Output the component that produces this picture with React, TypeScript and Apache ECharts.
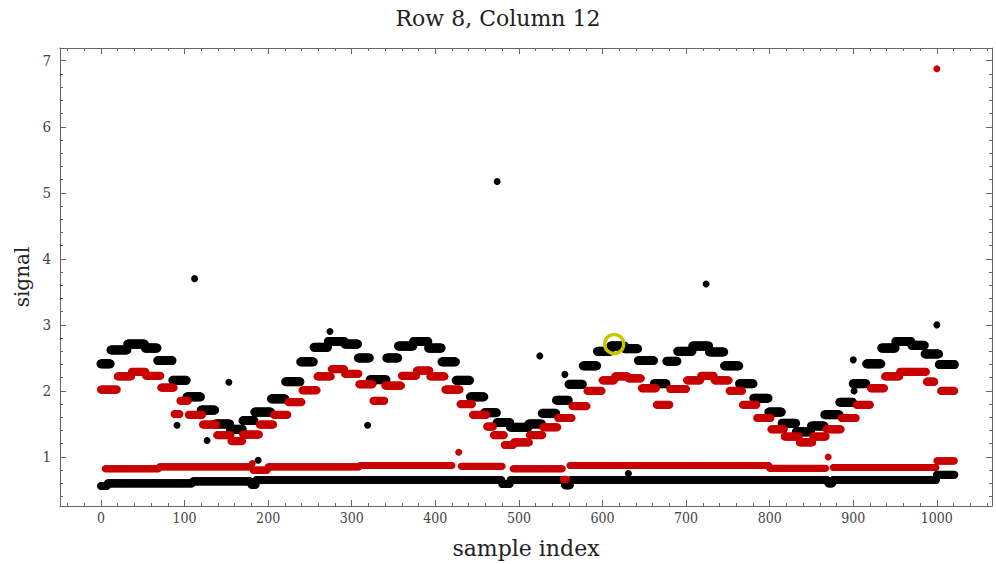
import React, { useEffect, useRef } from "react";
import * as echarts from "echarts";

type Block = [number, number, number]; // [startIndex, endIndex (exclusive), level]

// upper oscillating black trace, read as constant-level steps
const blackWave: Block[] = [
  [0, 12, 2.41], [12, 32, 2.62], [32, 53, 2.71], [53, 68, 2.65], [68, 86, 2.46],
  [86, 103, 2.16], [103, 120, 1.91], [120, 137, 1.71], [137, 155, 1.5], [155, 170, 1.42],
  [170, 184, 1.55], [184, 204, 1.68], [204, 221, 1.88], [221, 239, 2.14], [239, 255, 2.44],
  [255, 272, 2.66], [272, 292, 2.75], [292, 308, 2.71], [308, 322, 2.5], [322, 342, 2.17],
  [342, 356, 2.5], [356, 374, 2.68], [374, 392, 2.75], [392, 408, 2.65], [408, 425, 2.44],
  [425, 442, 2.16], [442, 459, 1.91], [459, 474, 1.67], [474, 490, 1.52], [490, 512, 1.45],
  [512, 528, 1.5], [528, 545, 1.66], [545, 560, 1.86], [560, 577, 2.1], [577, 594, 2.38],
  [594, 610, 2.6], [610, 627, 2.68], [627, 643, 2.64], [643, 662, 2.46], [662, 677, 2.11],
  [677, 690, 2.45], [690, 708, 2.6], [708, 728, 2.68], [728, 746, 2.59], [746, 764, 2.38],
  [764, 781, 2.11], [781, 799, 1.89], [799, 815, 1.68], [815, 832, 1.51], [832, 850, 1.38],
  [850, 866, 1.47], [866, 884, 1.64], [884, 900, 1.83], [900, 916, 2.11], [916, 934, 2.41],
  [934, 951, 2.65], [951, 970, 2.75], [970, 986, 2.69], [986, 1003, 2.56], [1003, 1022, 2.4],
];

// upper oscillating red trace
const redWave: Block[] = [
  [0, 20, 2.02], [20, 37, 2.22], [37, 54, 2.29], [54, 72, 2.23], [72, 88, 2.05],
  [88, 95, 1.65], [95, 105, 1.85], [105, 122, 1.64], [122, 139, 1.49], [139, 156, 1.33],
  [156, 170, 1.24], [170, 190, 1.34], [190, 207, 1.49], [207, 224, 1.64], [224, 241, 1.83],
  [241, 259, 2.01], [259, 276, 2.22], [276, 292, 2.33], [292, 309, 2.26], [309, 326, 2.1],
  [326, 340, 1.85], [340, 360, 2.08], [360, 378, 2.23], [378, 394, 2.31], [394, 412, 2.22],
  [412, 430, 2.02], [430, 445, 1.8], [445, 462, 1.64], [462, 470, 1.46], [470, 483, 1.33],
  [483, 494, 1.18], [494, 513, 1.22], [513, 529, 1.33], [529, 547, 1.45], [547, 564, 1.59],
  [564, 582, 1.77], [582, 600, 2.0], [600, 615, 2.16], [615, 631, 2.22], [631, 647, 2.19],
  [647, 665, 2.04], [665, 681, 1.79], [681, 701, 2.03], [701, 718, 2.16], [718, 734, 2.23],
  [734, 752, 2.16], [752, 768, 2.0], [768, 785, 1.79], [785, 802, 1.59], [802, 818, 1.42],
  [818, 836, 1.31], [836, 852, 1.22], [852, 868, 1.31], [868, 886, 1.42], [886, 904, 1.59],
  [904, 921, 1.79], [921, 938, 2.04], [938, 956, 2.22], [956, 988, 2.29], [988, 998, 2.14],
  [1005, 1022, 2.0],
];

// flat red baseline (~0.85)
const redBase: Block[] = [
  [5, 70, 0.82], [70, 178, 0.85], [182, 200, 0.8], [200, 310, 0.85], [310, 421, 0.87],
  [431, 481, 0.86], [493, 553, 0.82], [553, 558, 0.66], [561, 700, 0.87], [700, 800, 0.87],
  [800, 868, 0.83], [876, 1000, 0.84], [1000, 1022, 0.94],
];

// flat black baseline (~0.63)
const blackBase: Block[] = [
  [0, 8, 0.56], [8, 110, 0.6], [110, 180, 0.63], [180, 186, 0.58], [186, 480, 0.65],
  [480, 490, 0.59], [490, 555, 0.65], [555, 562, 0.57], [562, 870, 0.65], [870, 876, 0.6],
  [876, 1000, 0.65], [1000, 1022, 0.73],
];

const blackOutliers: [number, number][] = [
  [91, 1.48], [112, 3.7], [127, 1.25], [153, 2.13], [188, 0.95], [274, 2.9], [319, 1.48],
  [474, 5.17], [525, 2.53], [555, 2.25], [631, 0.75], [724, 3.62], [900, 2.47], [901, 2.0],
  [1000, 3.0],
];

const redOutliers: [number, number][] = [
  [181, 0.9], [428, 1.07], [870, 1.0], [1000, 6.88],
];

const highlightPoint: [number, number][] = [[614, 2.71]];

const xMajorTicks = [0, 100, 200, 300, 400, 500, 600, 700, 800, 900, 1000];
const yMajorTicks = [1, 2, 3, 4, 5, 6, 7];

const X_MIN = -49;
const X_MAX = 1066;
const Y_MIN = 0.257;
const Y_MAX = 7.193;

const FONT = "'DejaVu Serif', serif";
const TICK_FONT = "'DejaVu Serif Condensed', 'DejaVu Serif', serif";
const AXIS_COLOR = "#666";

function expand(blocks: Block[]): [number, number][] {
  const out: [number, number][] = [];
  for (const [s, e, v] of blocks) {
    for (let i = s; i < e; i++) out.push([i, v]);
  }
  return out;
}

function minorValues(start: number, end: number, step: number, majors: number[]): number[] {
  const out: number[] = [];
  for (let v = start; v <= end + 1e-9; v += step) {
    const r = Math.round(v * 1000) / 1000;
    if (!majors.some((m) => Math.abs(m - r) < 1e-6)) out.push(r);
  }
  return out;
}

export default function App() {
  const ref = useRef<HTMLDivElement>(null);

  useEffect(() => {
    document.body.style.margin = "0";
    if (!ref.current) return;
    const chart = echarts.init(ref.current, undefined, { renderer: "svg" });

    const xMinor = minorValues(-40, 1060, 20, xMajorTicks);
    const yMinor = minorValues(0.4, 7.0, 0.2, yMajorTicks);

    const mkX = (position: "bottom" | "top", ticks: number[], len: number, main: boolean, labels: boolean): any => ({
      type: "value",
      position,
      min: X_MIN,
      max: X_MAX,
      offset: 0,
      axisLine: { show: main, onZero: false, lineStyle: { color: AXIS_COLOR, width: 1 } },
      axisTick: { show: true, inside: true, length: len, customValues: ticks, lineStyle: { color: AXIS_COLOR } },
      axisLabel: labels
        ? {
            show: true,
            customValues: xMajorTicks,
            formatter: (v: number) => String(v),
            color: "#444",
            fontFamily: TICK_FONT,
            fontSize: 14,
            margin: 5,
          }
        : { show: false },
      splitLine: { show: false },
      name: labels ? "sample index" : "",
      nameLocation: "middle",
      nameGap: 31,
      nameTextStyle: { fontFamily: FONT, fontSize: 22, color: "#222", verticalAlign: "top" },
    });

    const mkY = (position: "left" | "right", ticks: number[], len: number, main: boolean, labels: boolean): any => ({
      type: "value",
      position,
      min: Y_MIN,
      max: Y_MAX,
      offset: 0,
      axisLine: { show: main, onZero: false, lineStyle: { color: AXIS_COLOR, width: 1 } },
      axisTick: { show: true, inside: true, length: len, customValues: ticks, lineStyle: { color: AXIS_COLOR } },
      axisLabel: labels
        ? {
            show: true,
            customValues: yMajorTicks,
            formatter: (v: number) => String(v),
            color: "#444",
            fontFamily: TICK_FONT,
            fontSize: 15,
            margin: 9,
          }
        : { show: false },
      splitLine: { show: false },
      name: labels ? "signal" : "",
      nameLocation: "middle",
      nameGap: 22,
      nameRotate: 90,
      nameTextStyle: { fontFamily: FONT, fontSize: 20, color: "#222" },
    });

    const pointSeries = (data: [number, number][], color: string, size: number): any => ({
      type: "scatter",
      xAxisIndex: 0,
      yAxisIndex: 0,
      data,
      symbol: "circle",
      symbolSize: size,
      itemStyle: { color, opacity: 1 },
      silent: true,
    });

    chart.setOption({
      animation: false,
      backgroundColor: "#fff",
      title: {
        text: "Row 8, Column 12",
        left: "center",
        top: 2,
        textStyle: { fontFamily: FONT, fontSize: 22, fontWeight: "normal", color: "#222" },
      },
      grid: { left: 60, right: 4, top: 48, bottom: 49, containLabel: false },
      xAxis: [
        mkX("bottom", xMajorTicks, 6, true, true),
        mkX("bottom", xMinor, 3, false, false),
        mkX("top", xMajorTicks, 6, true, false),
        mkX("top", xMinor, 3, false, false),
      ],
      yAxis: [
        mkY("left", yMajorTicks, 6, true, true),
        mkY("left", yMinor, 3, false, false),
        mkY("right", yMajorTicks, 6, true, false),
        mkY("right", yMinor, 3, false, false),
      ],
      series: [
        pointSeries(expand(blackBase), "#000", 8),
        pointSeries(expand(redBase), "#c80000", 7),
        pointSeries(expand(blackWave), "#000", 9),
        pointSeries(expand(redWave), "#c80000", 8),
        pointSeries(blackOutliers, "#000", 7),
        pointSeries(redOutliers, "#c80000", 7),
        {
          type: "scatter",
          xAxisIndex: 0,
          yAxisIndex: 0,
          data: highlightPoint,
          symbol: "circle",
          symbolSize: 19,
          itemStyle: { color: "rgba(0,0,0,0)", borderColor: "#c6c600", borderWidth: 3.5, opacity: 1 },
          silent: true,
        },
      ],
    });

    return () => chart.dispose();
  }, []);

  return <div ref={ref} style={{ width: 996, height: 564 }} />;
}
